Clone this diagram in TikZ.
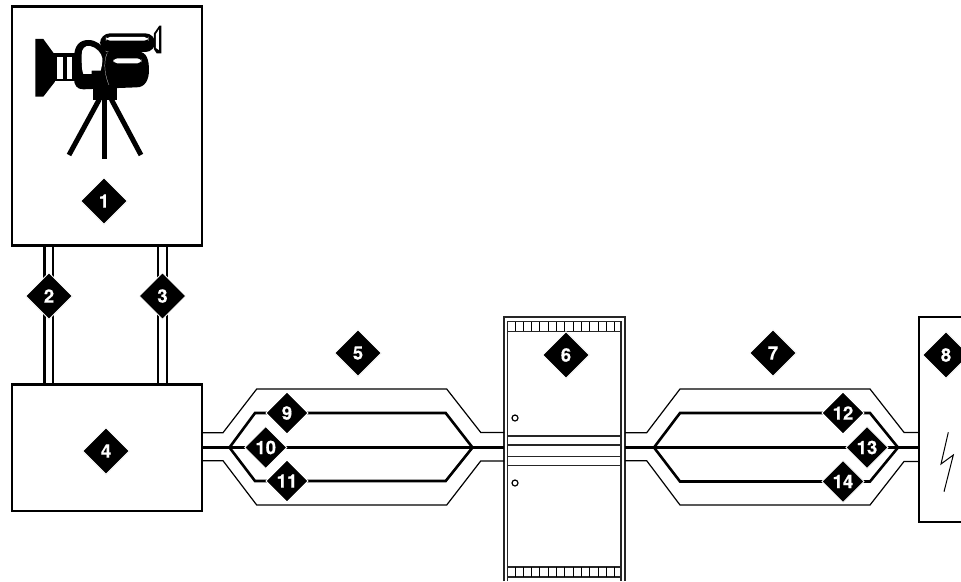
\documentclass[tikz,border=0pt]{standalone}
\usepackage{fontspec}
\setmainfont{TeX Gyre Heros}
\newfontfamily\tagfont[BoldFont={* Bold},BoldFeatures={FakeBold=0.5}]{TeX Gyre Heros}
\usetikzlibrary{shapes.geometric,calc}
\tikzset{
  box/.style={draw=black,line width=2.3,fill=white,inner sep=0,outer sep=0,anchor=north west},
  tag/.style={diamond,fill=black,draw=white,line width=0.8,aspect=1,inner sep=0,outer sep=0,minimum width=46.5,minimum height=46.5,text=white,font=\fontsize{18.5}{18.5}\tagfont\bfseries},
  smalltag/.style={tag,minimum width=42,minimum height=42},
  thin line/.style={draw=black,line width=1.2},
  mid line/.style={draw=black,line width=2.6},
  rail/.style={draw=black,line width=2.6},
  cabinet line/.style={draw=black!85,line width=1.1},
}
\begin{document}
\begin{tikzpicture}[x=1pt,y=-1pt]
\useasboundingbox (0,0) rectangle (961,581);
% boxes
\node[box,minimum width=190,minimum height=239] (box1) at (12,6.5) {};
\node[box,minimum width=190,minimum height=126.5] (box4) at (12,384.5) {};
\node[box,minimum width=60,minimum height=205] (box8) at (919,317) {};
% camera
\begin{scope}[x=0.3333pt,y=-0.3333pt]
\fill (106,117) -- (130,117) -- (165,165) -- (165,245) -- (130,290) -- (106,290) -- cycle;
\fill (160,160) rectangle (230,242);
\fill[white] (172,172) rectangle (190,236);
\fill[white] (200,172) rectangle (215,236);
\fill (222,175) .. controls (222,135) and (240,120) .. (265,120) .. controls (290,120) and (305,135) .. (318,155) -- (415,155) .. controls (440,155) and (447,180) .. (447,210) .. controls (447,240) and (435,262) .. (410,262) -- (250,268) .. controls (230,268) and (222,255) .. (222,235) -- cycle;
\fill[white] (245,165) .. controls (245,145) and (255,136) .. (270,138) .. controls (290,142) and (305,160) .. (307,175) .. controls (308,190) and (304,205) .. (302,212) -- (275,212) -- (275,222) -- (250,222) .. controls (245,210) and (245,190) .. (245,165) -- cycle;
\draw[white,line width=0.2] (322,158) .. controls (308,190) and (315,230) .. (330,262);
\fill[white,rounded corners=4] (340,175) rectangle (424,190);
\fill[rounded corners=10] (300,100) rectangle (466,156);
\fill[white,rounded corners=4] (318,111) rectangle (445,122);
\fill (462,100) -- (478,77) -- (484,77) -- (484,160) -- (470,160) -- (462,148) -- cycle;
\fill[white] (468,102) -- (477,88) -- (477,150) -- (468,144) -- cycle;
\fill (280,255) rectangle (351,300);
\draw[line width=5] (298,298) -- (207,465);
\draw[line width=5] (315,298) -- (315,478);
\draw[line width=5] (334,298) -- (423,465);
\end{scope}
% vertical rails between box1 and box4
\foreach \n/\xa in {a/44.5,b/53,c/158,d/167}{
  \coordinate (top\n) at (\xa,245);
  \coordinate (bot\n) at (\xa,385);
  \draw[rail] (top\n) -- (bot\n);
}
% cabinet
\node[draw=none,minimum width=121,minimum height=263,inner sep=0,anchor=north west] (cab) at (504,317) {};
\draw[cabinet line] (504,581) -- (504,317) -- (625,317) -- (625,581);
\draw[cabinet line] (507.5,581) -- (507.5,321.5) -- (621,321.5) -- (621,581);
\foreach \y in {331.5,436,445,456.5,465.5,567,577}{
  \draw[cabinet line] (507.5,\y) -- (621,\y);
}
\foreach \i in {0,...,12}{
  \draw[black,line width=1] ({515+\i*8.33},322) -- ({515+\i*8.33},331);
  \draw[black,line width=1] ({515+\i*8.33},567) -- ({515+\i*8.33},577);
}
\draw[black,line width=1.2] (515,418) circle (3);
\draw[black,line width=1.2] (515,483) circle (3);
% left bundle
\draw[thin line] (box4.east |- 0,432.7) -- (223,432.7) -- (256.7,389) -- (446.7,389) -- (480.7,432.4) -- (504,432.4);
\draw[thin line] (box4.east |- 0,460.7) -- (223,460.7) -- (256.7,505) -- (446.7,505) -- (480.7,461) -- (504,461);
\draw[mid line] (box4.east |- 0,447.5) -- (cab.west |- 0,447.5);
\coordinate (la) at (229.5,447.5);
\coordinate (lb) at (472.5,447.5);
\draw[mid line,line join=miter] (la) -- (255,413) -- (445.7,413) -- (lb) -- (445.7,481) -- (255,481) -- cycle;
% right bundle
\draw[thin line] (625,432.7) -- (646.7,432.7) -- (680,389) -- (870,389) -- (904,432.4) -- (box8.west |- 0,432.4);
\draw[thin line] (625,460.7) -- (646.7,460.7) -- (680,505) -- (870,505) -- (904,461.5) -- (box8.west |- 0,461.5);
\draw[mid line] (625,447.5) -- (box8.west |- 0,447.5);
\coordinate (ra) at (654,447.5);
\coordinate (rb) at (898,447.5);
\draw[mid line,line join=miter] (ra) -- (680,413) -- (870,413) -- (rb) -- (870,481.5) -- (680,481.5) -- cycle;
% lightning
\draw[black,line width=1] (948.3,432.3) -- (941,464) -- (953.3,455) -- (944,491.7);
% diamonds
\node[tag] (n1) at (104,201) {1};
\node[tag] (n2) at (49,296) {2};
\node[tag] (n3) at (162.5,296) {3};
\node[tag] (n4) at (106,451) {4};
\node[tag] (n5) at (358,353) {5};
\node[tag] (n6) at (566,355) {6};
\node[tag] (n7) at (773,353) {7};
\node[tag] (n8) at (946,355) {8};
\node[smalltag] (n9) at (287,413) {9};
\node[smalltag] (n10) at (265.7,447.5) {10};
\node[smalltag] (n11) at (287,481) {11};
\node[smalltag] (n12) at (843,413) {12};
\node[smalltag] (n13) at (867,447.5) {13};
\node[smalltag] (n14) at (843,481.5) {14};
\end{tikzpicture}
\end{document}
